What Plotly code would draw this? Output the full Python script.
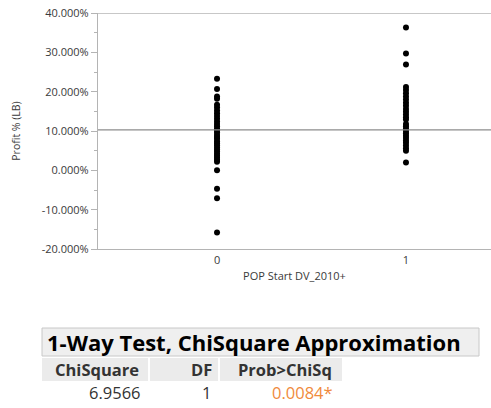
import plotly.graph_objects as go

# Profit % (LB) per group of POP Start DV_2010+
group_labels = ["0", "1"]
profit_group0 = [23.3, 20.7, 18.8, 18.2, 16.7, 16.0, 15.2, 14.5, 13.8, 13.1, 12.4,
                 11.8, 11.2, 10.6, 10.1, 9.6, 9.0, 8.5, 8.0, 7.4, 6.9, 6.4, 5.8,
                 5.3, 4.8, 4.2, 3.7, 3.2, 2.7, 2.2, 0.0, -4.7, -7.1, -15.8]
profit_group1 = [36.3, 29.7, 26.9, 21.2, 20.4, 19.6, 18.8, 18.0, 17.2, 16.4, 15.6,
                 14.9, 14.2, 13.5, 12.9, 11.8, 11.2, 10.6, 10.0, 9.4, 8.8, 8.2,
                 7.6, 7.0, 6.3, 5.6, 5.0, 2.0]
grand_mean = 10.3

y_ticks = [-20, -10, 0, 10, 20, 30, 40]
y_tick_text = [f"{v:.3f}%" for v in y_ticks]

# one-way test summary
test_title = "1-Way Test, ChiSquare Approximation"
test_headers = ["ChiSquare", "DF", "Prob>ChiSq"]
test_values = ["6.9566", "1", "0.0084*"]

W, H = 491, 408
L, R, T, B = 98, 491, 13, 249  # plot area in pixels


def px(x):
    return (x - L) / (R - L)


def py(y):
    return (B - y) / (B - T)


fig = go.Figure()
fig.add_trace(go.Scatter(
    x=[0] * len(profit_group0), y=profit_group0, mode="markers",
    marker=dict(color="black", size=6), showlegend=False, cliponaxis=False))
fig.add_trace(go.Scatter(
    x=[1] * len(profit_group1), y=profit_group1, mode="markers",
    marker=dict(color="black", size=6), showlegend=False, cliponaxis=False))

axis_grey = "#b4b4b4"
text_col = "#3a3a3a"
font_family = "Open Sans, Noto Sans, sans-serif"

shapes = [
    # grand mean line
    dict(type="line", xref="paper", yref="y", x0=0, x1=1, y0=grand_mean, y1=grand_mean,
         line=dict(color="#8c8c8c", width=1.3)),
    # top frame line
    dict(type="line", xref="paper", yref="y", x0=0, x1=1, y0=40, y1=40,
         line=dict(color=axis_grey, width=1.3)),
]

# table title box
tb_x0, tb_x1, tb_y0, tb_y1 = 42, 479, 328, 356
shapes.append(dict(type="rect", xref="paper", yref="paper",
                   x0=px(tb_x0), x1=px(tb_x1), y0=py(tb_y1), y1=py(tb_y0),
                   fillcolor="#efefef", line=dict(color="#c8c8c8", width=1), layer="below"))

# header cells
header_cells = [(42, 148), (150, 218), (220, 342)]
hy0, hy1 = 358, 381
for (cx0, cx1) in header_cells:
    shapes.append(dict(type="rect", xref="paper", yref="paper",
                       x0=px(cx0), x1=px(cx1), y0=py(hy1), y1=py(hy0),
                       fillcolor="#ebebeb", line=dict(width=0), layer="below"))

annotations = [
    dict(text=test_title, xref="paper", yref="paper", x=px(45), y=py(342),
         xanchor="left", yanchor="middle", showarrow=False,
         font=dict(family=font_family, size=22, color="black", weight="bold")),
]
header_right = [141, 214, 334]
for txt, xr in zip(test_headers, header_right):
    annotations.append(dict(text=txt, xref="paper", yref="paper", x=px(xr), y=py(369.5),
                            xanchor="right", yanchor="middle", showarrow=False,
                            font=dict(family=font_family, size=16.5, color="#333333",
                                      weight="bold")))
value_colors = ["#333333", "#333333", "#f08a3c"]
value_right = [143, 213, 335]
for txt, xr, c in zip(test_values, value_right, value_colors):
    annotations.append(dict(text=txt, xref="paper", yref="paper", x=px(xr), y=py(392),
                            xanchor="right", yanchor="middle", showarrow=False,
                            font=dict(family=font_family, size=16.5, color=c)))

fig.update_layout(
    width=W, height=H,
    margin=dict(l=L, r=W - R, t=T, b=H - B, pad=0),
    paper_bgcolor="white", plot_bgcolor="white",
    font=dict(family=font_family, size=11, color=text_col),
    shapes=shapes, annotations=annotations,
    xaxis=dict(
        range=[-0.63, 1.45], tickvals=[0, 1], ticktext=group_labels,
        showgrid=False, zeroline=False, showline=True, linecolor=axis_grey, linewidth=1.3,
        ticks="", ticklabelstandoff=1,
        title=dict(text="POP Start DV_2010+", font=dict(size=11, color=text_col), standoff=5),
    ),
    yaxis=dict(
        range=[-20, 40], tickvals=y_ticks, ticktext=y_tick_text,
        showgrid=False, zeroline=False, showline=True, linecolor=axis_grey, linewidth=1.3,
        ticks="outside", ticklen=6, tickcolor=axis_grey, tickwidth=1,
        minor=dict(dtick=5, tick0=0, ticks="outside", ticklen=3, tickcolor=axis_grey),
        title=dict(text="Profit % (LB)", font=dict(size=10.5, color=text_col), standoff=18),
    ),
)

fig.write_html("out.html")
